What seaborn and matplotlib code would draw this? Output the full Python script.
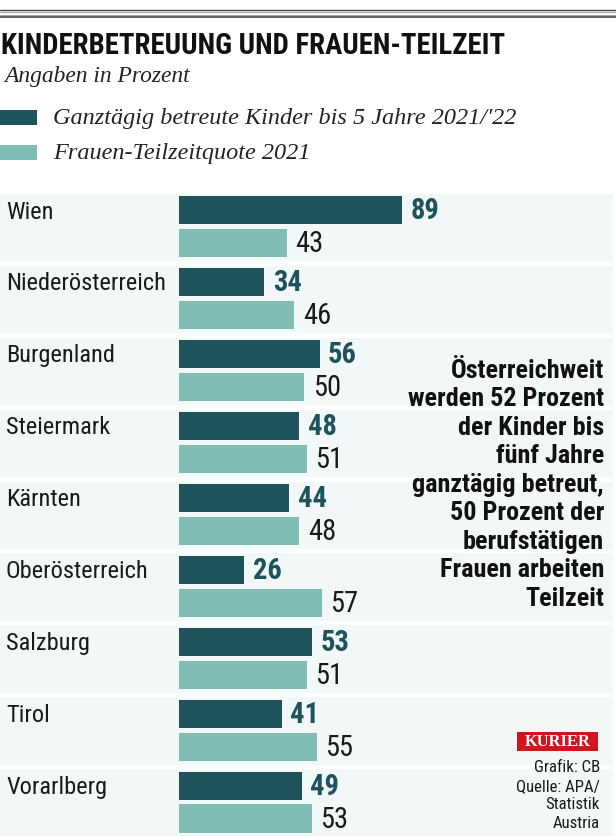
import matplotlib
matplotlib.use("Agg")
import matplotlib.pyplot as plt
from matplotlib import font_manager
from matplotlib.lines import Line2D
from matplotlib.patches import Rectangle
import seaborn as sns
import pandas as pd

# ---------------- data ----------------
regions = ["Wien", "Niederösterreich", "Burgenland", "Steiermark", "Kärnten",
           "Oberösterreich", "Salzburg", "Tirol", "Vorarlberg"]
kinder = [89, 34, 56, 48, 44, 26, 53, 41, 49]
frauen = [43, 46, 50, 51, 48, 57, 51, 55, 53]
series_names = ["Ganztägig betreute Kinder bis 5 Jahre 2021/'22",
                "Frauen-Teilzeitquote 2021"]
title = "KINDERBETREUUNG UND FRAUEN-TEILZEIT"
subtitle = "Angaben in Prozent"
note = ("Österreichweit\nwerden 52 Prozent\nder Kinder bis\nfünf Jahre\n"
        "ganztägig betreut,\n50 Prozent der\nberufstätigen\nFrauen arbeiten\nTeilzeit")
source_lines = ["Grafik: CB", "Quelle: APA/", "Statistik", "Austria"]
brand = "KURIER"

DARK = "#1f535b"
LIGHT = "#80bdb5"
BAND = "#f2f7f8"

df = pd.DataFrame({
    "region": regions * 2,
    "value": kinder + frauen,
    "series": [series_names[0]] * len(regions) + [series_names[1]] * len(regions),
})

# ---------------- fonts ----------------
names = {f.name for f in font_manager.fontManager.ttflist}
cond = None
for cand in ["Liberation Sans Narrow", "Roboto Condensed", "Open Sans Condensed"]:
    if cand in names:
        cond = dict(family=cand)
        break
if cond is None:
    has_dv_cond = any(f.name == "DejaVu Sans" and f.stretch == "condensed"
                      for f in font_manager.fontManager.ttflist)
    if has_dv_cond:
        cond = dict(family="DejaVu Sans", fontstretch="condensed")
    else:
        cond = dict(family="Roboto")
serif = "Liberation Serif" if "Liberation Serif" in names else "DejaVu Serif"

sns.set_theme(style="white")
W, H = 616, 837
fig = plt.figure(figsize=(W / 100, H / 100), dpi=100)
fig.patch.set_facecolor("white")
renderer = fig.canvas.get_renderer()


def fit(text, target, **kw):
    t = fig.text(0, 0, text, fontsize=20, **kw)
    w = t.get_window_extent(renderer).width
    t.remove()
    return 20 * target / w


def fx(px):
    return px / W


def fy(py):
    return 1 - py / H


# ---------------- main axes ----------------
scale = 2.51     # px per percent
x0 = 179         # px where value 0 sits
ax_right = 613
top_px, bot_px = 185, 837
row0, pitch = 227.5, 71.94
ax = fig.add_axes([0, fy(bot_px), fx(ax_right), (bot_px - top_px) / H])

sns.barplot(data=df, y="region", x="value", hue="series", order=regions,
            hue_order=series_names, palette=[DARK, LIGHT], width=0.917, gap=0.15,
            orient="h", ax=ax, legend=False, saturation=1, edgecolor="none",
            linewidth=0)

ax.set_xlim(-x0 / scale, (ax_right - x0) / scale)
ax.set_ylim((bot_px - row0) / pitch, (top_px - row0) / pitch)
for i in range(len(regions)):
    ax.axhspan(i - 0.455, i + 0.48, color=BAND, zorder=0, lw=0)
ax.set_axis_off()

# value labels
vsize = fit("89", 29, fontweight="bold", **cond)
ax.bar_label(ax.containers[0], fmt="%d", padding=6, color=DARK, fontweight="bold",
             fontsize=vsize, **cond)
ax.bar_label(ax.containers[1], fmt="%d", padding=6, color="#1a1a1a",
             fontsize=vsize, **cond)

# category labels
csize = fit("Niederösterreich", 160, **cond)
for i, r in enumerate(regions):
    ax.text(6 / ax_right, i - 0.215, r, transform=ax.get_yaxis_transform(),
            ha="left", va="center", fontsize=csize, color="#1a1a1a", **cond)

# ---------------- header ----------------
for y, c, lw in [(11, "#444444", 1.0), (12.6, "#aaaaaa", 0.8),
                 (16.4, "#aaaaaa", 0.8), (18, "#444444", 1.2)]:
    fig.add_artist(Line2D([0, 1], [fy(y), fy(y)], color=c, lw=lw,
                          transform=fig.transFigure))

tsize = fit(title, 505, fontweight="bold", **cond)
fig.text(fx(1), fy(46.5), title, ha="left", va="center", fontsize=tsize,
         fontweight="bold", color="#111111", **cond)
fig.text(fx(4), fy(77), subtitle, ha="left", va="center", family=serif,
         style="italic", fontsize=fit(subtitle, 186, family=serif, style="italic"),
         color="#222222")

lsize = fit(series_names[0], 462, family=serif, style="italic")
for (yc, col, lab) in [(118.5, DARK, series_names[0]), (153, LIGHT, series_names[1])]:
    fig.add_artist(Rectangle((0, fy(yc + 7.5)), fx(37), 15 / H, color=col,
                             transform=fig.transFigure, lw=0))
    fig.text(fx(53), fy(yc), lab, ha="left", va="center", family=serif,
             style="italic", fontsize=lsize, color="#222222")

# ---------------- note ----------------
nsize = fit("werden 52 Prozent", 196, fontweight="bold", **cond)
fig.text(fx(604), fy(359), note, ha="right", va="top", multialignment="right",
         fontsize=nsize, fontweight="bold", color="#111111", linespacing=1.235, **cond)

# ---------------- brand + source ----------------
fig.add_artist(Rectangle((fx(517), fy(752)), fx(81), 19 / H, color="#d1151d",
                         transform=fig.transFigure, lw=0))
bsize = fit(brand, 66, family=serif, fontweight="bold")
fig.text(fx(557.5), fy(742.5), brand, ha="center", va="center", family=serif,
         fontweight="bold", fontsize=bsize, color="white")
ssize = fit("Quelle: APA/", 84, **cond)
for k, s in enumerate(source_lines):
    fig.text(fx(600), fy(768 + 18.5 * k), s, ha="right", va="center",
             fontsize=ssize, color="#1a1a1a", **cond)

fig.savefig("out.png", dpi=100, facecolor="white")
